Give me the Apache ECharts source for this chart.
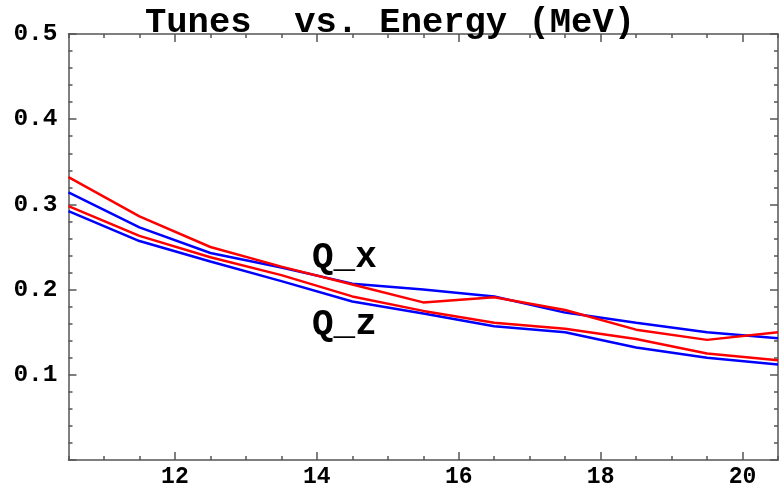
<!DOCTYPE html>
<html>
<head>
<meta charset="utf-8">
<script src="https://cdn.jsdelivr.net/npm/echarts@6/dist/echarts.min.js"></script>
<style>
	html, body { margin: 0; padding: 0; background: #fff; }
	#chart { width: 780px; height: 489px; }
</style>
</head>
<body>
<div id="chart"></div>
<script>
var energy = [10.5, 11.5, 12.5, 13.5, 14.5, 15.5, 16.5, 17.5, 18.5, 19.5, 20.5];
var qxRed  = [0.332, 0.286, 0.250, 0.227, 0.206, 0.185, 0.191, 0.176, 0.153, 0.141, 0.150];
var qxBlue = [0.314, 0.273, 0.243, 0.226, 0.207, 0.200, 0.192, 0.173, 0.161, 0.150, 0.143];
var qzRed  = [0.298, 0.263, 0.238, 0.217, 0.192, 0.175, 0.161, 0.154, 0.142, 0.125, 0.117];
var qzBlue = [0.292, 0.257, 0.233, 0.210, 0.186, 0.172, 0.157, 0.150, 0.132, 0.120, 0.112];
var xMajorTicks = [12, 14, 16, 18, 20];
var yTicks = [0.1, 0.2, 0.3, 0.4, 0.5];

var monoFont = '"Liberation Mono", "Courier New", monospace';
var axisColor = '#555';

function pairs(ys) {
	var out = [];
	for(var i = 0; i<energy.length; i ++) {
		out.push([energy[i], ys[i]]);
	}
	return out;
}

function line(ys, color) {
	return {
		type : 'line',
		data : pairs(ys),
		showSymbol : false,
		symbol : 'none',
		lineStyle : { color : color, width : 2.5 },
		animation : false
	};
}

// minor x ticks every 0.5, major ones drawn by a second overlaid axis
function xAxisBase(pos, withLabels) {
	return {
		type : 'value',
		position : pos,
		min : 10.5,
		max : 20.5,
		interval : 0.5,
		splitLine : { show : false },
		axisLine : { show : true, onZero : false, lineStyle : { color : axisColor, width : 1.5 } },
		axisTick : { show : true, inside : true, length : 4, lineStyle : { color : axisColor, width : 1.5 } },
		axisLabel : withLabels ? {
			show : true,
			customValues : xMajorTicks,
			margin : 6,
			color : '#000',
			fontFamily : monoFont,
			fontWeight : 'bold',
			fontSize : 23
		} : { show : false }
	};
}

function xAxisMajor(pos) {
	return {
		type : 'value',
		position : pos,
		min : 10.5,
		max : 20.5,
		interval : 0.5,
		splitLine : { show : false },
		axisLine : { show : false, onZero : false },
		axisTick : { show : true, inside : true, length : 8, customValues : xMajorTicks, lineStyle : { color : axisColor, width : 1.5 } },
		axisLabel : { show : false }
	};
}

function yAxisBase(pos, withLabels) {
	return {
		type : 'value',
		position : pos,
		min : 0,
		max : 0.5,
		interval : 0.1,
		splitLine : { show : false },
		axisLine : { show : true, onZero : false, lineStyle : { color : axisColor, width : 1.5 } },
		axisTick : { show : true, inside : true, length : 8, lineStyle : { color : axisColor, width : 1.5 } },
		minorTick : { show : true, splitNumber : 5, length : 4, lineStyle : { color : axisColor, width : 1.5 } },
		axisLabel : withLabels ? {
			show : true,
			customValues : yTicks,
			margin : 11,
			color : '#000',
			fontFamily : monoFont,
			fontWeight : 'bold',
			fontSize : 24.5,
			formatter : function(v) { return v.toFixed(1); }
		} : { show : false }
	};
}

var chart = echarts.init(document.getElementById('chart'), null, { renderer : 'canvas' });

var option = {
	backgroundColor : '#fff',
	animation : false,
	title : {
		text : 'Tunes  vs. Energy (MeV)',
		left : 'center',
		top : 0,
		textStyle : {
			fontFamily : monoFont,
			fontWeight : 'bold',
			fontSize : 35.5,
			color : '#000'
		}
	},
	grid : {
		left : 68.5,
		right : 2,
		top : 34,
		bottom : 26,
		containLabel : false
	},
	xAxis : [
		xAxisBase('bottom', true),
		xAxisMajor('bottom'),
		xAxisBase('top', false),
		xAxisMajor('top')
	],
	yAxis : [
		yAxisBase('left', true),
		yAxisBase('right', false)
	],
	graphic : [
		{ type : 'text', left : 312, top : 240, style : { text : 'Q_x', font : 'bold 36px ' + monoFont, fill : '#000' } },
		{ type : 'text', left : 312, top : 307, style : { text : 'Q_z', font : 'bold 36px ' + monoFont, fill : '#000' } }
	],
	series : [
		line(qxBlue, '#0000ff'),
		line(qzBlue, '#0000ff'),
		line(qxRed, '#ff0000'),
		line(qzRed, '#ff0000')
	]
};
chart.setOption(option);
</script>
</body>
</html>
